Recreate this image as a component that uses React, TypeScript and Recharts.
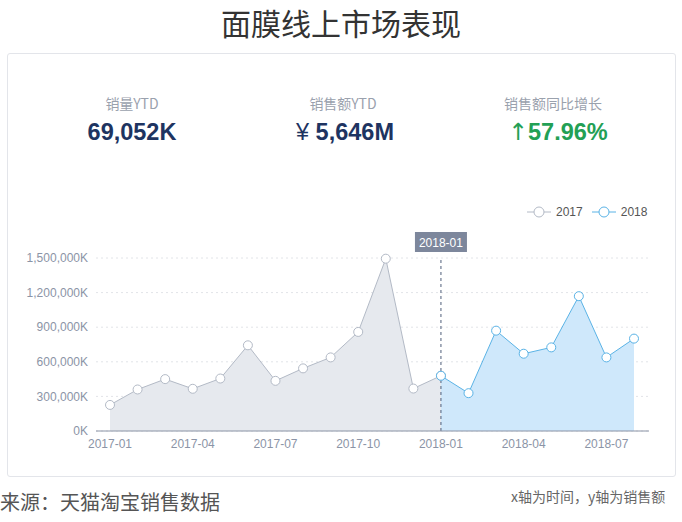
import React from 'react';
import { ComposedChart, Area, XAxis, YAxis, CartesianGrid, ReferenceLine } from 'recharts';

const months = [
  '2017-01', '2017-02', '2017-03', '2017-04', '2017-05', '2017-06', '2017-07', '2017-08', '2017-09', '2017-10',
  '2017-11', '2017-12', '2018-01', '2018-02', '2018-03', '2018-04', '2018-05', '2018-06', '2018-07', '2018-08',
];
const sales2017 = [226000, 360000, 450000, 366000, 455000, 743000, 435000, 543000, 638000, 859000, 1494000, 368000, 479000];
const sales2018 = [479000, 328000, 870000, 670000, 725000, 1169000, 638000, 801000];
const yTicks = [0, 300000, 600000, 900000, 1200000, 1500000];
const xTicks = ['2017-01', '2017-04', '2017-07', '2017-10', '2018-01', '2018-04', '2018-07'];
const markerMonth = '2018-01';

const seriesInfo = [
  { key: 's2017', name: '2017', stroke: '#b3bac6', fill: '#e6e9ee' },
  { key: 's2018', name: '2018', stroke: '#5ab3e6', fill: '#cfe8fb' },
];

const start2018 = months.indexOf('2018-01');
const data = months.map((m, i) => ({
  month: m,
  s2017: i < sales2017.length ? sales2017[i] : null,
  s2018: i >= start2018 && i - start2018 < sales2018.length ? sales2018[i - start2018] : null,
}));

const FONT = '"Liberation Sans", "Noto Sans CJK SC", Arial, sans-serif';
const CJK = '"Noto Sans CJK SC", "Liberation Sans", sans-serif';

const fmtY = (v: number) => `${v.toLocaleString('en-US')}K`;

const RefLabel = (props: any) => {
  const vb = props.viewBox || {};
  const x = vb.x;
  const y = vb.y;
  return (
    <g>
      <rect x={x - 26} y={y - 26} width={52} height={20} fill="#7d879c" />
      <text x={x} y={y - 11.5} textAnchor="middle" fill="#ffffff" fontSize={12} fontFamily={FONT}>
        {markerMonth}
      </text>
    </g>
  );
};

const LegendIcon = ({ color }: { color: string }) => (
  <svg width={24} height={12} style={{ display: 'block' }}>
    <line x1={0} y1={6} x2={24} y2={6} stroke={color} strokeWidth={1} />
    <circle cx={12} cy={6} r={5} fill="#fff" stroke={color} strokeWidth={1} />
  </svg>
);

const valueStyle = (left: number, color: string): React.CSSProperties => ({
  position: 'absolute', left, width: 200, top: 118, textAlign: 'center', fontFamily: FONT, fontSize: 23.5,
  fontWeight: 'bold', color, lineHeight: '28px', whiteSpace: 'nowrap',
});

export default function App() {
  return (
    <div style={{ position: 'absolute', left: 0, top: 0, width: 682, height: 522, background: '#fff', overflow: 'hidden' }}>
      <div
        style={{
          position: 'absolute', left: 141, top: 0, width: 400, textAlign: 'center', fontFamily: CJK,
          fontSize: 30, color: '#333', lineHeight: 'normal', whiteSpace: 'nowrap',
        }}
      >
        面膜线上市场表现
      </div>
      <div
        style={{
          position: 'absolute', left: 7, top: 53, width: 667, height: 422, border: '1px solid #e3e5ea', borderRadius: 3,
          background: '#fff',
        }}
      />
      {[
        { label: '销量YTD', cx: 132 },
        { label: '销售额YTD', cx: 343 },
        { label: '销售额同比增长', cx: 553 },
      ].map((k) => (
        <div
          key={k.label}
          style={{
            position: 'absolute', left: k.cx - 100, width: 200, top: 93, textAlign: 'center', fontFamily: CJK,
            fontSize: 14, color: '#9aa1ad', lineHeight: '20px',
          }}
        >
          {k.label}
        </div>
      ))}
      <div style={valueStyle(32, '#1e3461')}>69,052K</div>
      <div style={valueStyle(245, '#1e3461')}>
        <span style={{ fontWeight: 'normal' }}>¥ </span>5,646M
      </div>
      <div style={valueStyle(458, '#23a055')}>
        <span style={{ fontWeight: 'normal', fontFamily: '"DejaVu Sans", sans-serif' }}>↑</span>57.96%
      </div>

      <div style={{ position: 'absolute', left: 527, top: 205, display: 'flex', alignItems: 'center', fontFamily: FONT, fontSize: 12, color: '#555' }}>
        {seriesInfo.map((s, i) => (
          <div key={s.key} style={{ display: 'flex', alignItems: 'center', marginLeft: i === 0 ? 0 : 9 }}>
            <LegendIcon color={s.stroke} />
            <span style={{ marginLeft: 5, lineHeight: '14px' }}>{s.name}</span>
          </div>
        ))}
      </div>

      <div style={{ position: 'absolute', left: 0, top: 0 }}>
        <ComposedChart width={682} height={470} data={data} margin={{ top: 258, right: 33, left: 0, bottom: 9 }}>
          <CartesianGrid vertical={false} stroke="#e2e4e8" strokeDasharray="2 3" />
          <XAxis
            dataKey="month"
            ticks={xTicks}
            interval={0}
            tickLine={false}
            axisLine={{ stroke: '#8a93a5' }}
            padding={{ left: 14, right: 15 }}
            tick={{ fill: '#8b94a6', fontSize: 12, fontFamily: FONT }}
          />
          <YAxis
            width={96}
            domain={[0, 1500000]}
            ticks={yTicks}
            tickFormatter={fmtY}
            axisLine={false}
            tickLine={false}
            tick={{ fill: '#8b94a6', fontSize: 12, fontFamily: FONT }}
          />
          {seriesInfo.map((s) => (
            <Area
              key={s.key}
              type="linear"
              dataKey={s.key}
              name={s.name}
              stroke={s.stroke}
              strokeWidth={1}
              fill={s.fill}
              fillOpacity={1}
              dot={{ r: 4.5, fill: '#fff', stroke: s.stroke, strokeWidth: 1 }}
              activeDot={false}
              isAnimationActive={false}
            />
          ))}
          <ReferenceLine x={markerMonth} stroke="#4f5d7a" strokeDasharray="3 3" strokeWidth={1} label={<RefLabel />} />
        </ComposedChart>
      </div>

      <div style={{ position: 'absolute', left: 0, top: 489, fontFamily: CJK, fontSize: 20, color: '#555', lineHeight: '26px' }}>
        来源：天猫淘宝销售数据
      </div>
      <div style={{ position: 'absolute', left: 511, top: 487, fontFamily: CJK, fontSize: 14, color: '#666', lineHeight: '18px' }}>
        x轴为时间，y轴为销售额
      </div>
    </div>
  );
}
